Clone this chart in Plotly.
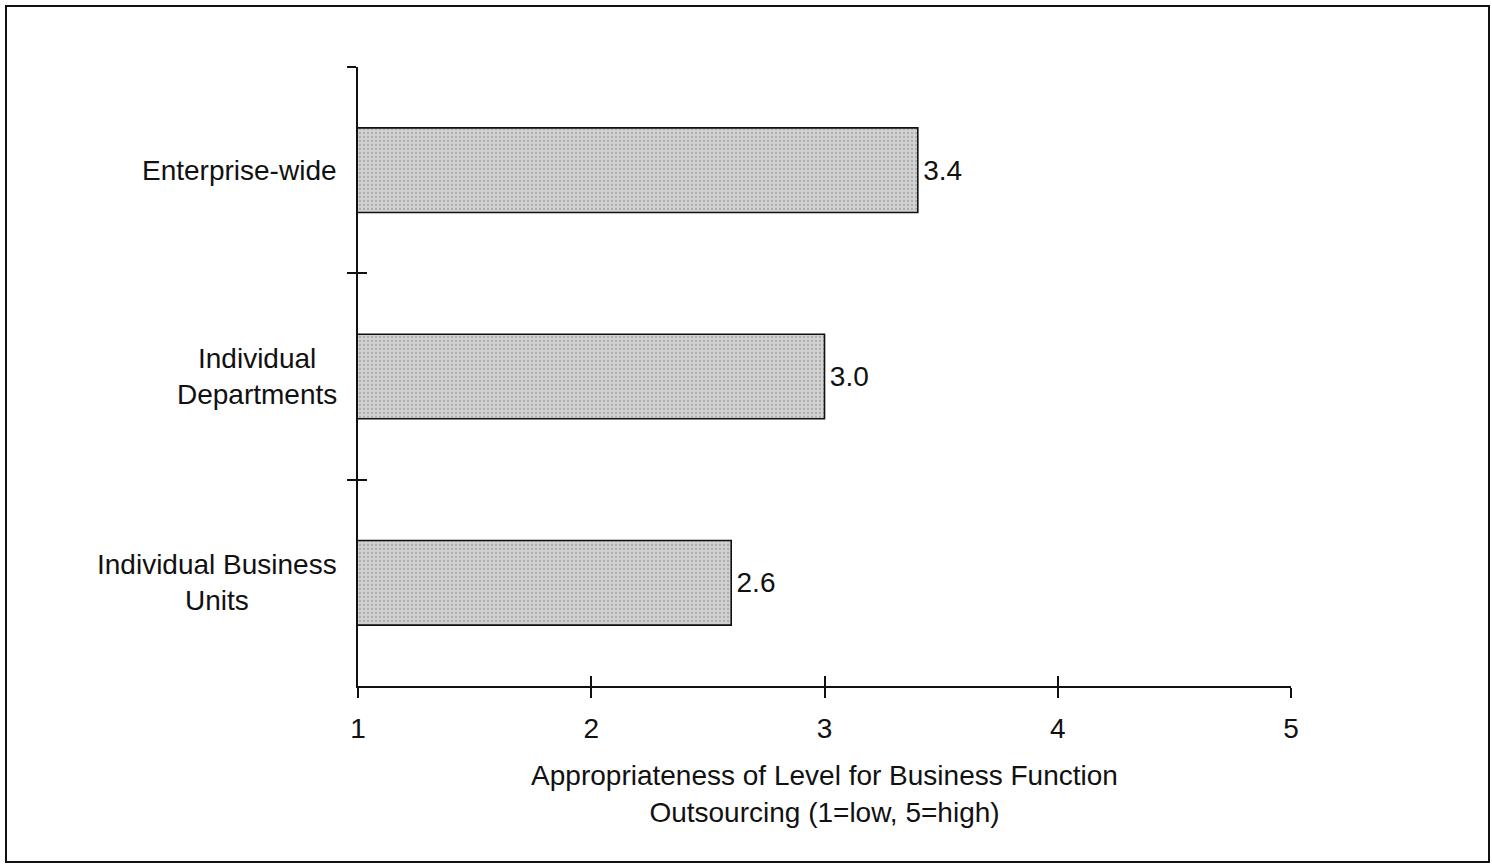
import plotly.graph_objects as go

# Organisational levels (top to bottom) and mean ratings
levels = ["Enterprise-wide", "Individual<br>Departments", "Individual Business<br>Units"]
ratings = [3.4, 3.0, 2.6]
x_ticks = [1, 2, 3, 4, 5]

FONT = "Liberation Sans, Arial, Helvetica, sans-serif"
FS = 28
W, H = 1492, 866
L, R, T, B = 358, 201, 67, 180

fig = go.Figure()
fig.add_trace(go.Bar(
    x=ratings, y=levels, orientation="h", base=0,
    width=0.41,
    marker=dict(
        color="#d0d0d0",
        line=dict(color="#111111", width=1.6),
        pattern=dict(shape=".", fgcolor="#858585", bgcolor="#d2d2d2", size=4, solidity=0.25),
    ),
    texttemplate="\u200a%{x:.1f}", textposition="outside", cliponaxis=False,
    textfont=dict(family=FONT, size=FS, color="#111111"),
    hoverinfo="skip",
))

# Invisible companion trace so the overlay axes (inward tick marks) are drawn
n = len(levels)
fig.add_trace(go.Scatter(
    x=ratings, y=list(range(n)), xaxis="x2", yaxis="y2",
    mode="markers", marker=dict(opacity=0), hoverinfo="skip", showlegend=False,
))

boundaries = [i - 0.5 for i in range(n + 1)]

fig.update_layout(
    width=W, height=H,
    margin=dict(l=L, r=R, t=T, b=B, autoexpand=False),
    paper_bgcolor="white", plot_bgcolor="white",
    showlegend=False,
    font=dict(family=FONT, size=FS, color="#111111"),
    xaxis=dict(
        range=[1, 5], tickvals=x_ticks, ticks="outside", ticklen=10, tickwidth=1.5,
        tickcolor="#111111", showline=True, linecolor="#111111", linewidth=2,
        showgrid=False, zeroline=False, ticklabelstandoff=6,
        tickfont=dict(size=FS),
        title=dict(text="Appropriateness of Level for Business Function<br>Outsourcing (1=low, 5=high)",
                   font=dict(size=FS), standoff=23),
        automargin=False,
    ),
    xaxis2=dict(
        overlaying="x", range=[1, 5], tickvals=x_ticks, ticks="inside", ticklen=10,
        tickwidth=1.5, tickcolor="#111111", showticklabels=False, showgrid=False,
        zeroline=False, side="bottom", showline=False,
    ),
    yaxis=dict(
        type="category", categoryorder="array", categoryarray=levels,
        range=[n - 0.5, -0.5], tickson="boundaries", ticks="outside", ticklen=9,
        tickwidth=1.5, tickcolor="#111111", showline=True, linecolor="#111111",
        linewidth=2, showgrid=False, zeroline=False, showticklabels=False,
        automargin=False,
    ),
    yaxis2=dict(
        overlaying="y", range=[n - 0.5, -0.5], tickvals=boundaries, ticks="inside",
        ticklen=9, tickwidth=1.5, tickcolor="#111111", showticklabels=False,
        showgrid=False, zeroline=False, showline=False,
    ),
)

# Category labels, centre-aligned on each line, to the left of the axis
for lvl in levels:
    fig.add_annotation(
        x=x_ticks[0], y=lvl, xref="x", yref="y", text=lvl, showarrow=False,
        xanchor="right", yanchor="middle", align="center", xshift=-19,
        font=dict(family=FONT, size=FS, color="#111111"),
    )

# Outer frame around the whole figure
pw, ph = W - L - R, H - T - B
fig.add_shape(
    type="rect", xref="paper", yref="paper",
    x0=(6 - L) / pw, x1=(W - 3 - L) / pw,
    y0=(H - B - (H - 4)) / ph, y1=(H - B - 6) / ph,
    line=dict(color="#111111", width=2), layer="below",
)

fig.write_html("out.html")
